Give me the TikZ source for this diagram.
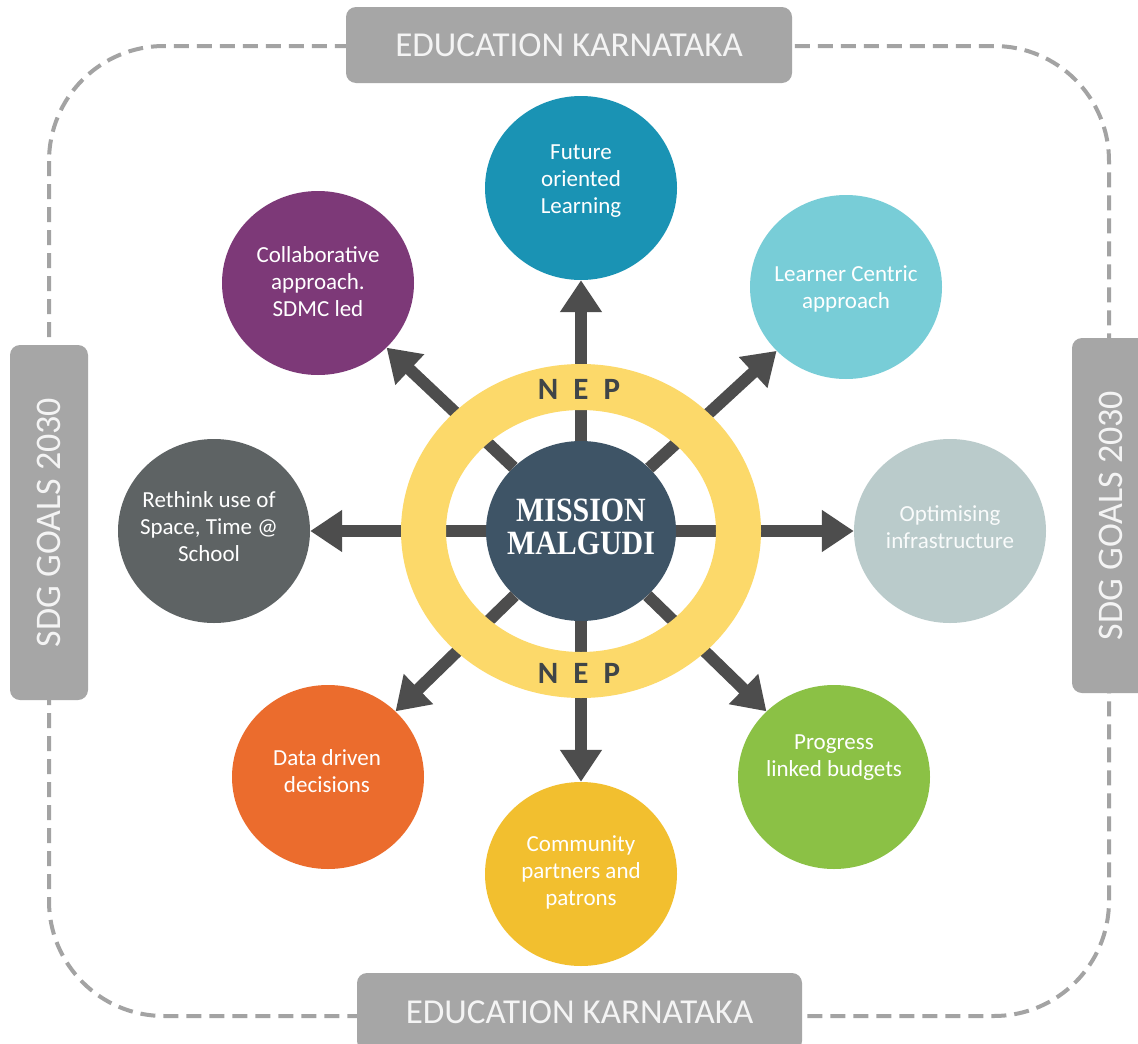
\documentclass[tikz,border=0pt]{standalone}
\usepackage{fontspec}
\setmainfont{Carlito}
\newfontfamily\mmfont{Liberation Serif}[FakeStretch=0.88]
\usetikzlibrary{arrows.meta,shapes.geometric}
\definecolor{futc}{HTML}{1A93B4}
\definecolor{lrnc}{HTML}{78CDD7}
\definecolor{optc}{HTML}{BACBCB}
\definecolor{prgc}{HTML}{8BC145}
\definecolor{comc}{HTML}{F2BF2F}
\definecolor{datc}{HTML}{EB6C2D}
\definecolor{retc}{HTML}{5E6364}
\definecolor{colc}{HTML}{7D3978}
\definecolor{centerc}{HTML}{3E5466}
\definecolor{ringc}{HTML}{FCD96A}
\definecolor{arrowc}{HTML}{4D4D4D}
\definecolor{boxgray}{HTML}{A6A6A6}
\definecolor{boxtext}{HTML}{F4F4F4}
\definecolor{dashc}{HTML}{A3A3A3}
\definecolor{nepc}{HTML}{3F4548}
\begin{document}
\begin{tikzpicture}[x=1pt,y=-1pt,
  bubble/.style={ellipse, minimum width=192pt, minimum height=184pt, inner sep=0pt, draw=none},
  btext/.style={text=white, align=center, inner sep=0pt, font=\fontsize{23}{27}\selectfont},
  graybox/.style={fill=boxgray, rounded corners=10pt, text=boxtext, inner sep=0pt},
  boxfont/.style={font=\fontsize{35}{40}\selectfont},
  sdgfont/.style={font=\fontsize{36}{40}\selectfont},
  arr/.style={draw=arrowc, line width=12pt, -{Triangle[width=40pt,length=32pt]}},
  dashline/.style={draw=dashc, line width=4pt, dash pattern=on 15pt off 8pt},
  neptext/.style={text=nepc, inner sep=0pt, font=\fontsize{31}{34}\selectfont\bfseries}
]
\clip (0,0) rectangle (1138,1044);
\fill[white] (0,0) rectangle (1138,1044);

% dashed frame
\draw[dashline, rounded corners=115pt] (49,46) rectangle (1109,1016);

% frame labels
\node[graybox, boxfont, minimum width=446pt, minimum height=76pt] (eduT) at (569,45) {EDUCATION KARNATAKA};
\node[graybox, boxfont, minimum width=445pt, minimum height=78pt] (eduB) at (579.5,1012) {EDUCATION KARNATAKA};
\node[graybox, sdgfont, rotate=90, minimum width=355pt, minimum height=78pt] (sdgL) at (49,522.5) {SDG GOALS 2030};
\node[graybox, sdgfont, rotate=90, minimum width=355pt, minimum height=78pt] (sdgR) at (1111,515.5) {SDG GOALS 2030};

% centre
\node[ellipse, fill=centerc, minimum width=190pt, minimum height=180pt, inner sep=0pt] (mm) at (581,531) {};

% outer bubbles
\node[bubble, fill=futc] (fut) at (581,188) {};
\node[bubble, fill=lrnc] (lrn) at (846,287) {};
\node[bubble, fill=optc] (opt) at (950,531) {};
\node[bubble, fill=prgc] (prg) at (834,777) {};
\node[bubble, fill=comc] (com) at (581,874) {};
\node[bubble, fill=datc] (dat) at (328,777) {};
\node[bubble, fill=retc] (ret) at (214,531) {};
\node[bubble, fill=colc] (col) at (318,283) {};

% arrows
\draw[arr] (mm) -- (fut);
\draw[arr] (mm) -- (lrn);
\draw[arr] (mm) -- (opt);
\draw[arr] (mm) -- (prg);
\draw[arr] (mm) -- (com);
\draw[arr] (mm) -- (dat);
\draw[arr] (mm) -- (ret);
\draw[arr] (mm) -- (col);

% NEP ring
\fill[ringc, even odd rule] (581,531) ellipse [x radius=180pt, y radius=167pt]
  (581,531) ellipse [x radius=135pt, y radius=121pt];
\node[neptext] (nepT) at (579,389) {N\hspace{15pt}E\hspace{15pt}P};
\node[neptext] (nepB) at (579,673) {N\hspace{15pt}E\hspace{15pt}P};

% centre text
\node[text=white, align=center, inner sep=0pt, font=\mmfont\bfseries\fontsize{34}{33}\selectfont] (mmt) at (581,527) {MISSION\\MALGUDI};

% bubble texts
\node[btext] (tfut) at (581,181) {Future\\oriented\\Learning};
\node[btext] (tlrn) at (846,289) {Learner Centric\\approach};
\node[btext, text=white!92!optc] (topt) at (950,527) {Optimising\\infrastructure};
\node[btext] (tprg) at (834,758) {Progress\\linked budgets};
\node[btext] (tcom) at (581,872) {Community\\partners and\\patrons};
\node[btext] (tdat) at (327,771) {Data driven\\decisions};
\node[btext] (tret) at (209,527) {Rethink use of\\Space, Time @\\School};
\node[btext] (tcol) at (318,282) {Collaborative\\approach.\\SDMC led};
\end{tikzpicture}
\end{document}
